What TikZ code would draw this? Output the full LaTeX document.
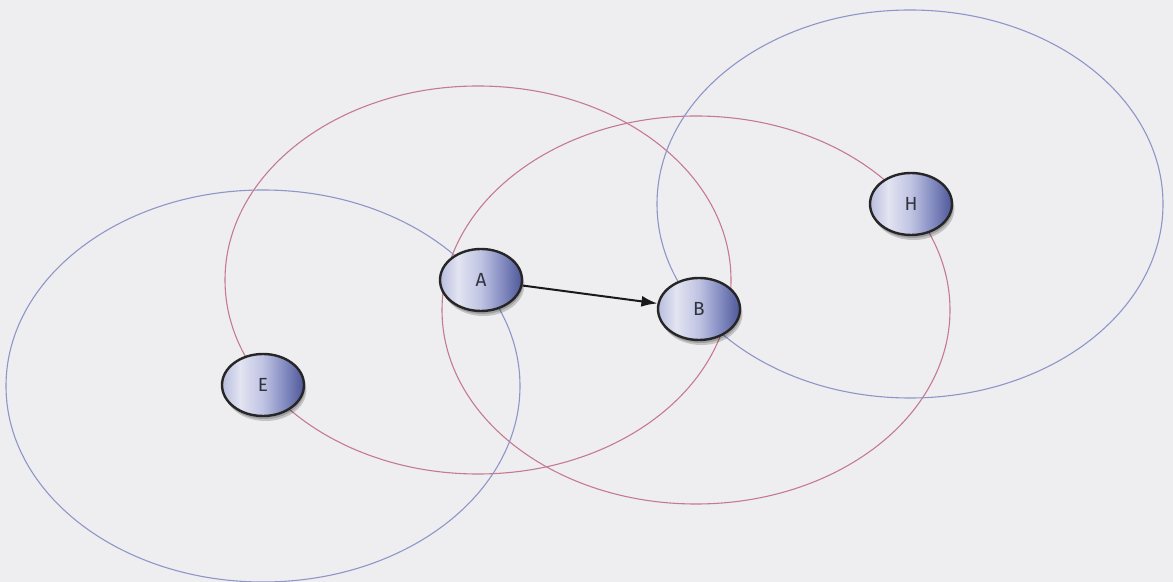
\documentclass[tikz,border=0pt]{standalone}
\usepackage{fontspec}
\setmainfont{Fira Sans}
\usetikzlibrary{shapes.geometric,shadows,arrows.meta}
\definecolor{bgc}{HTML}{EEEEF1}
\definecolor{pinkc}{HTML}{C47A92}
\definecolor{bluec}{HTML}{8E96C8}
\definecolor{txtc}{HTML}{30323C}
\definecolor{shA}{HTML}{A9AFD6}
\definecolor{shB}{HTML}{B8BDDE}
\definecolor{shC}{HTML}{E2E4F1}
\definecolor{shD}{HTML}{BFC3E2}
\definecolor{shF}{HTML}{8890C4}
\definecolor{shE}{HTML}{4E5899}
\pgfdeclarehorizontalshading{nodeshade}{100bp}{
  color(0bp)=(shA);
  color(25bp)=(shB);
  color(36bp)=(shC);
  color(50bp)=(shD);
  color(62bp)=(shF);
  color(75bp)=(shE);
  color(100bp)=(shE)}
\tikzset{
  station/.style={ellipse, draw=black!85, line width=1.2pt, shading=nodeshade,
    minimum width=41pt, minimum height=31pt, inner sep=0pt,
    font=\fontsize{9.5}{10}\selectfont, text=txtc,
    drop shadow={shadow xshift=1.2pt, shadow yshift=-2.5pt, opacity=0.18, fill=black},
    drop shadow={shadow xshift=0.6pt, shadow yshift=-1.5pt, opacity=0.18, fill=black}},
  rangeA/.style={draw=pinkc, line width=0.55pt},
  rangeB/.style={draw=bluec, line width=0.55pt},
  link/.style={draw=black!90, line width=1pt, -{Latex[length=8pt,width=5.5pt]}}
}
\begin{document}
\begin{tikzpicture}[x=0.5pt,y=-0.5pt]
\useasboundingbox (0,0) rectangle (1173,582);
\fill[bgc] (0,0) rectangle (1173,582);
\begin{scope}
\clip (0,0) rectangle (1173,582);
\draw[rangeB] (263,386) ellipse [x radius=128.5pt, y radius=98pt];
\draw[rangeA] (478,280) ellipse [x radius=126.5pt, y radius=97pt];
\draw[rangeA] (696,310) ellipse [x radius=127pt, y radius=97pt];
\draw[rangeB] (910,204) ellipse [x radius=126.5pt, y radius=97pt];
\end{scope}
\node[station] (A) at (481,280) {A};
\node[station] (B) at (699,309) {B};
\node[station] (E) at (263,385) {E};
\node[station] (H) at (911,204) {H};
\draw[link] (A) -- (B);
\end{tikzpicture}
\end{document}
